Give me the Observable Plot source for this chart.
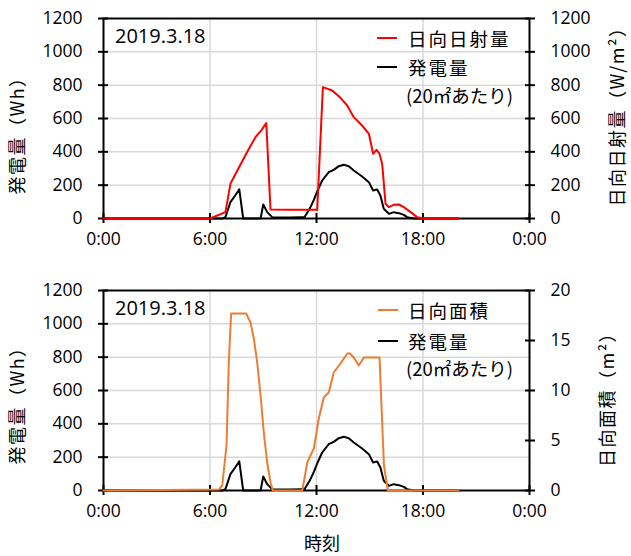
<!DOCTYPE html>
<html><head><meta charset="utf-8">
<script src="https://cdn.jsdelivr.net/npm/d3@7"></script>
<script src="https://cdn.jsdelivr.net/npm/@observablehq/plot@0.6"></script>
<style>
body{margin:0;background:#fff;}
#wrap{position:relative;width:631px;height:556px;font-family:"Open Sans","Noto Sans CJK JP",sans-serif;color:#000;overflow:hidden;}
#wrap svg{position:absolute;left:0;}
.ov{position:absolute;white-space:nowrap;line-height:1;}
.jp{font-family:"Noto Sans CJK JP",sans-serif;}
.rot{transform:translate(-50%,-50%) rotate(-90deg);font-size:18px;letter-spacing:1.5px;}
.leg{font-size:18.5px;letter-spacing:2px;transform:translateY(-50%);}
.sw{position:absolute;height:2px;width:20px;transform:translateY(-50%);}
.date{font-size:20px;transform:translateY(-50%);}
.xt{font-size:18px;transform:translate(-50%,-50%);}
</style></head><body><div id="wrap"></div>
<script>
// ---- data (hours since 0:00) ----
const irrTime = [0, 6.0, 6.87, 7.15, 7.6, 8.1, 8.56, 8.9, 9.17, 9.41, 10.5, 12.04, 12.36, 12.88, 13.35, 13.73, 14.1, 14.57, 14.95, 15.19, 15.38, 15.55, 15.7, 15.89, 16.08, 16.35, 16.64, 16.92, 17.3, 17.67, 18.05, 20.0];
const irrValue = [0, 0, 38, 208, 300, 400, 488, 530, 572, 54, 52, 52, 788, 768, 724, 678, 608, 558, 508, 388, 412, 388, 328, 88, 68, 82, 84, 68, 38, 8, 0, 0];

const powTime = [0, 6.7, 6.87, 7.15, 7.4, 7.65, 7.87, 8.85, 9.0, 9.22, 9.5, 10.0, 10.5, 11.1, 11.32, 11.6, 11.85, 12.05, 12.32, 12.69, 12.97, 13.26, 13.54, 13.82, 14.1, 14.57, 14.95, 15.19, 15.42, 15.6, 15.79, 16.08, 16.35, 16.64, 16.92, 17.1, 17.5, 20.0];
const powValue = [0, 0, 8, 98, 135, 175, 0, 0, 84, 38, 8, 6, 6, 8, 8, 55, 112, 165, 228, 278, 292, 314, 322, 314, 288, 252, 218, 168, 174, 138, 58, 28, 38, 32, 22, 8, 0, 0];

const areaTime = [0, 6.5, 6.69, 6.93, 7.06, 7.19, 8.04, 8.28, 8.47, 8.66, 8.85, 9.03, 9.22, 9.41, 9.54, 11.2, 11.48, 11.66, 11.85, 12.13, 12.41, 12.69, 12.97, 13.35, 13.73, 13.88, 14.1, 14.38, 14.67, 15.55, 15.8, 16.02, 20.0];
const areaValue = [0, 0.1, 0.5, 4.5, 12.8, 17.7, 17.7, 16.8, 15.2, 12.8, 9.5, 5.8, 2.8, 0.8, 0, 0, 2.8, 3.5, 4.2, 7.2, 9.3, 9.8, 11.8, 12.7, 13.7, 13.7, 13.3, 12.5, 13.3, 13.3, 2.5, 0, 0];

const xTicks = [0, 6, 12, 18, 24];
const leftTicks = [0, 200, 400, 600, 800, 1000, 1200];
const gridTicks = [200, 400, 600, 800, 1000];
const rightTicksTop = [0, 200, 400, 600, 800, 1000, 1200];
const areaTicks = [0, 5, 10, 15, 20];
const areaMax = 20, powMax = 1200;

const irr = irrTime.map((t, i) => ({t, v: irrValue[i]}));
const pow = powTime.map((t, i) => ({t, v: powValue[i]}));
const area = areaTime.map((t, i) => ({t, v: areaValue[i] * powMax / areaMax}));

function panel({height, marginBottom, rightTicks, rightFormat, top, color}) {
  return Plot.plot({
    width: 631, height, marginTop: 18, marginBottom, marginLeft: 103, marginRight: 102,
    style: {fontFamily: '"Open Sans","Noto Sans CJK JP",sans-serif', fontSize: "17.5px", color: "#000", background: "transparent"},
    x: {domain: [0, 24]},
    y: {domain: [0, 1200]},
    marks: [
      Plot.ruleY(gridTicks, {stroke: "#d9d9d9", strokeWidth: 1.5}),
      Plot.ruleX([6, 12, 18], {stroke: "#d9d9d9", strokeWidth: 1.5}),
      Plot.frame({stroke: "#000", strokeWidth: 2}),
      Plot.axisY({anchor: "left", ticks: leftTicks, tickFormat: d => String(d), tickSize: 10, dx: 5, tickPadding: 16, label: null, strokeWidth: 2}),
      Plot.axisY({anchor: "right", ticks: rightTicks, tickFormat: rightFormat, tickSize: 10, dx: -5, tickPadding: 16, label: null, strokeWidth: 2}),
      Plot.axisX({ticks: xTicks, tickFormat: d => (d % 24) + ":00", tickSize: 10, dy: -5, tickPadding: 9, label: null, strokeWidth: 2}),
      Plot.line(pow, {x: "t", y: "v", stroke: "#000", strokeWidth: 2}),
      Plot.line(top, {x: "t", y: "v", stroke: color, strokeWidth: 2})
    ]
  });
}

const wrap = document.getElementById("wrap");
const p1 = panel({height: 272, marginBottom: 54, rightTicks: rightTicksTop, rightFormat: d => String(d), top: irr, color: "#ff0000"});
p1.style.top = "0px";
const p2 = panel({height: 284, marginBottom: 66, rightTicks: areaTicks.map(a => a * powMax / areaMax), rightFormat: d => String(Math.round(d * areaMax / powMax)), top: area, color: "#ed7d31"});
p2.style.top = "272px";
wrap.appendChild(p1);
wrap.appendChild(p2);

function ov(html, cls, left, top) {
  const d = document.createElement("div");
  d.className = "ov " + cls;
  d.innerHTML = html;
  d.style.left = left + "px";
  d.style.top = top + "px";
  wrap.appendChild(d);
  return d;
}
function sw(color, left, top) {
  const d = document.createElement("div");
  d.className = "sw";
  d.style.background = color;
  d.style.left = left + "px";
  d.style.top = top + "px";
  wrap.appendChild(d);
}
// dates
ov("2019.3.18", "date", 115, 36);
ov("2019.3.18", "date", 115, 308);
// legends
sw("#ff0000", 377, 38);
ov("日向日射量", "leg jp", 408, 38);
sw("#000", 377, 67);
ov("発電量", "leg jp", 408, 67);
ov("(20㎡あたり)", "leg jp", 406, 95).style.letterSpacing = "0px";
sw("#ed7d31", 378, 310);
ov("日向面積", "leg jp", 408, 310);
sw("#000", 378, 341);
ov("発電量", "leg jp", 408, 341);
ov("(20㎡あたり)", "leg jp", 406, 368).style.letterSpacing = "0px";
// axis titles
ov("発電量（Wh）", "rot jp", 16, 131);
ov("日向日射量（W/m²）", "rot jp", 616, 112);
ov("発電量（Wh）", "rot jp", 16, 401);
ov("日向面積（m²）", "rot jp", 606, 395);
ov("時刻", "xt jp", 322, 542);
</script>
</body></html>
